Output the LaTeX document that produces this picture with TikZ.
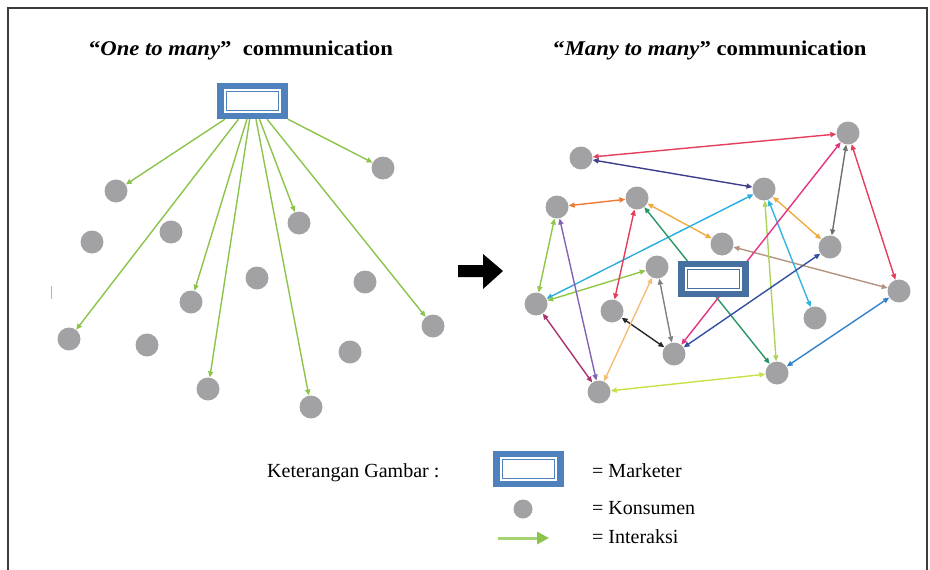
\documentclass[tikz,border=0pt]{standalone}
\usepackage{fontspec}
\setmainfont{Liberation Serif}
\usetikzlibrary{arrows.meta}
\pgfdeclarelayer{bg}
\pgfsetlayers{bg,main}
\definecolor{framec}{RGB}{60,60,60}
\definecolor{consgray}{RGB}{162,162,165}
\definecolor{mblue}{RGB}{79,129,189}
\definecolor{mblueB}{RGB}{70,112,160}
\definecolor{lgreen}{RGB}{140,195,75}
\definecolor{cRed}{RGB}{228,62,92}
\definecolor{cNavy}{RGB}{62,62,140}
\definecolor{cOrange}{RGB}{240,122,52}
\definecolor{cGold}{RGB}{238,172,64}
\definecolor{cGray}{RGB}{110,110,110}
\definecolor{cTan}{RGB}{178,148,128}
\definecolor{cCyan}{RGB}{40,172,225}
\definecolor{cLGreen}{RGB}{142,200,70}
\definecolor{cPurple}{RGB}{130,100,180}
\definecolor{cTeal}{RGB}{40,150,100}
\definecolor{cPGreen}{RGB}{172,212,92}
\definecolor{cCyanB}{RGB}{52,180,222}
\definecolor{cPink}{RGB}{230,50,130}
\definecolor{cDBlue}{RGB}{50,80,160}
\definecolor{cBlack}{RGB}{40,40,40}
\definecolor{cGrayB}{RGB}{128,128,128}
\definecolor{cLOrange}{RGB}{245,190,120}
\definecolor{cMaroon}{RGB}{170,50,110}
\definecolor{cYGreen}{RGB}{200,225,70}
\definecolor{cBlue}{RGB}{50,130,200}
\definecolor{legline}{RGB}{165,212,115}
\newfontfamily\titlefont[FakeStretch=1.08]{Liberation Serif}
\begin{document}
\begin{tikzpicture}[x=1pt,y=-1pt,
  cons/.style={circle, fill=consgray, minimum size=23pt, inner sep=0pt},
  mkt/.style={rectangle, fill=#1, minimum width=71pt, minimum height=36pt, inner sep=0pt,
    path picture={
      \fill[white] ([xshift=7pt,yshift=-6pt]path picture bounding box.north west) rectangle ([xshift=-7pt,yshift=6pt]path picture bounding box.south east);
      \draw[#1, line width=0.9pt] ([xshift=9.5pt,yshift=-8.5pt]path picture bounding box.north west) rectangle ([xshift=-9.5pt,yshift=8.5pt]path picture bounding box.south east);
    }},
  mkt/.default=mblue,
  one/.style={line width=1.4pt, -{Triangle[length=6pt,width=5pt]}},
  two/.style={line width=1.4pt, {Triangle[length=6pt,width=5pt]}-{Triangle[length=6pt,width=5pt]}},
  title/.style={font=\titlefont\fontsize{21}{25}\selectfont\bfseries, inner sep=0pt, anchor=base},
  leg/.style={font=\fontsize{20}{24}\selectfont, inner sep=0pt, anchor=base west}
]
\useasboundingbox (0,0) rectangle (930,570);
\draw[framec, line width=1.5pt] (8,570) -- (8,8) -- (927,8) -- (927,570);

% titles
\node[title] (t1) at (241,56) {“\textit{One to many}”\ \ communication};
\node[title] (t2) at (710,55) {“\textit{Many to many}” communication};

% ---------- left network ----------
\node[mkt] (lm) at (252.5,101) {};
\foreach \n/\p in {c1/{383,168}, c2/{116,191}, c3/{92,242}, c4/{171,232}, c5/{299,223},
  c6/{257,278}, c7/{365,282}, c8/{191,302}, c9/{433,326}, c10/{69,339}, c11/{147,345},
  c12/{350,352}, c13/{208,389}, c14/{311,407}}
  \node[cons] (\n) at (\p) {};
\begin{pgfonlayer}{bg}
\foreach \t in {c1,c2,c5,c8,c9,c10,c13,c14}
  \draw[one, lgreen] (lm) -- (\t);
\end{pgfonlayer}
\draw[consgray!80, line width=0.8pt] (51,286) -- (51,299);

% big arrow
\fill[black] (458,265) -- (483,265) -- (483,254) -- (503,271) -- (483,289) -- (483,277) -- (458,277) -- cycle;

% ---------- right network ----------
\foreach \n/\p in {A/{848,133}, B/{581,158}, C/{764,189}, D/{557,207}, E/{637,198},
  F/{722,244}, G/{830,247}, H/{657,267}, I/{536,304}, J/{612,311}, K/{899,291},
  L/{815,318}, M/{674,354}, N/{777,373}, O/{599,392}}
  \node[cons] (\n) at (\p) {};
\node[mkt=mblueB] (rm) at (713.5,279) {};
\begin{pgfonlayer}{bg}
\foreach \a/\b/\c in {A/B/cRed, B/C/cNavy, D/E/cOrange, E/F/cGold, C/G/cGold, A/G/cGray,
  A/K/cRed, F/K/cTan, C/I/cCyan, I/H/cLGreen, D/I/cLGreen, D/O/cPurple, E/J/cRed,
  E/N/cTeal, C/N/cPGreen, C/L/cCyanB, A/M/cPink, G/M/cDBlue, J/M/cBlack, H/M/cGrayB,
  O/H/cLOrange, I/O/cMaroon, O/N/cYGreen, N/K/cBlue}
  \draw[two, \c] (\a) -- (\b);
\end{pgfonlayer}

% ---------- legend ----------
\node[leg] (kg) at (267,477) {Keterangan Gambar :};
\node[mkt] (lgm) at (528.5,469) {};
\node[cons, minimum size=19pt] (lgc) at (523,509) {};
\coordinate (la) at (498,538);
\coordinate (lb) at (549,538);
\draw[legline, line width=3pt, -{Triangle[length=12pt,width=12pt,fill=lgreen,color=lgreen]}] (la) -- (lb);
\node[leg] (lt1) at (592,477) {= Marketer};
\node[leg] (lt2) at (592,514) {= Konsumen};
\node[leg] (lt3) at (592,543) {= Interaksi};
\end{tikzpicture}
\end{document}
